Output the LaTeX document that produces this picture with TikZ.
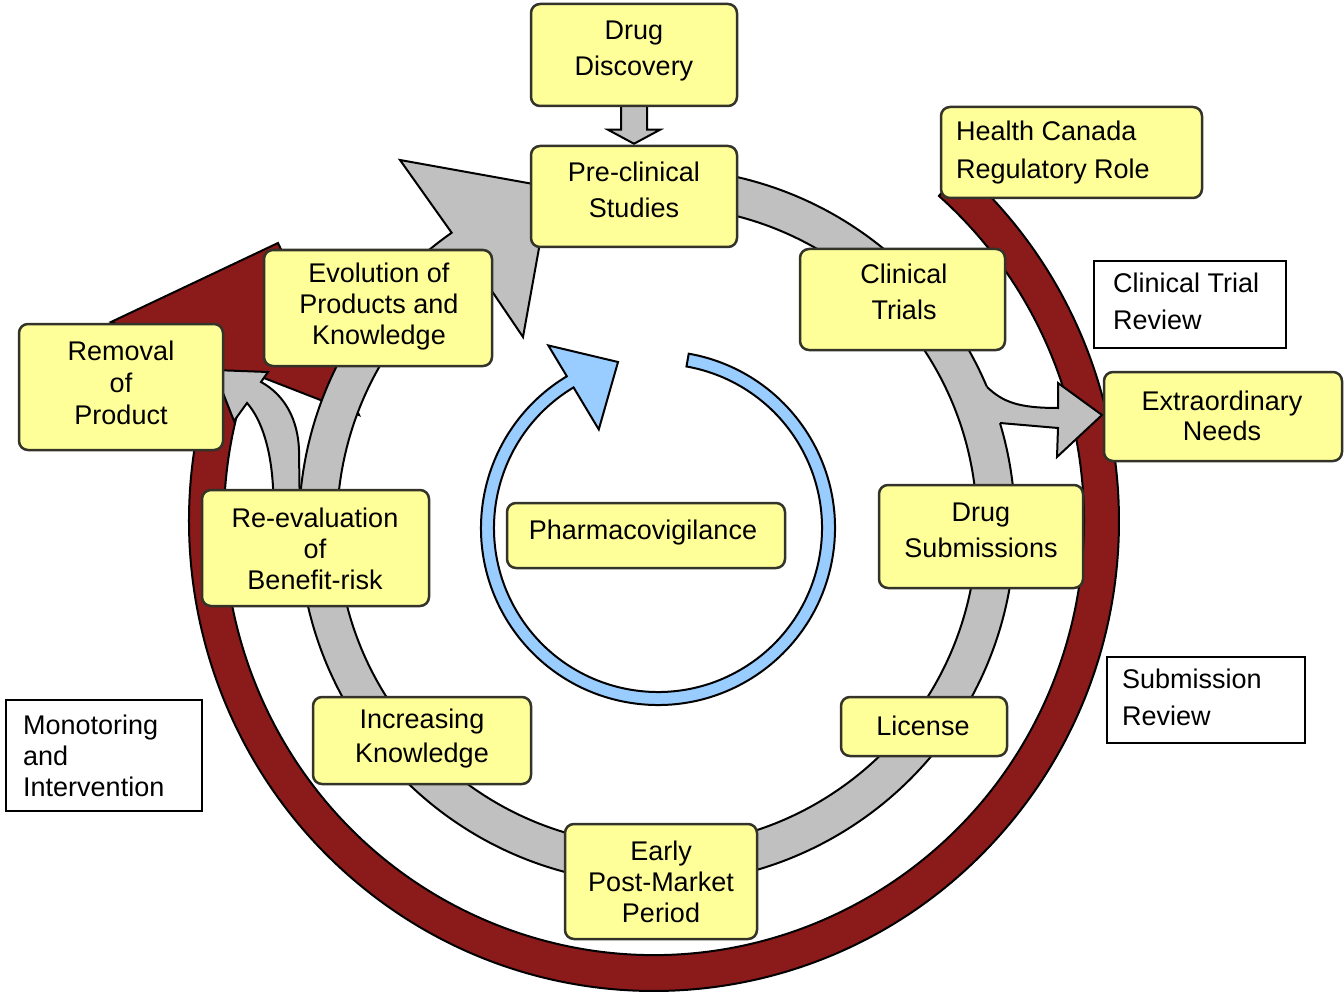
\documentclass[tikz,border=0pt]{standalone}
\usepackage{fontspec}
\setmainfont{Liberation Sans}
\usetikzlibrary{calc}
\pgfdeclarelayer{back}
\pgfsetlayers{back,main}
\definecolor{boxfill}{HTML}{FFFF99}
\definecolor{boxline}{HTML}{33332A}
\definecolor{cyclegray}{HTML}{C0C0C0}
\definecolor{hcred}{HTML}{8B1A1A}
\definecolor{pvblue}{HTML}{99CCFF}
\tikzset{
  stage/.style={draw=boxline, fill=boxfill, line width=2.5pt, rounded corners=9pt, inner sep=0pt},
  note/.style={draw=black, fill=white, line width=2.5pt, inner sep=0pt},
  lbl/.style={font=\fontsize{27}{32}\selectfont, align=center, inner sep=0pt},
  lbll/.style={font=\fontsize{27}{37}\selectfont, align=left, inner sep=0pt, anchor=west},
  band/.style={draw=black, line width=2pt, line join=miter},
}
\begin{document}
\begin{tikzpicture}[x=1pt, y=-1pt]
\path[use as bounding box] (0,0) rectangle (1344,995);

% ---------- stage boxes ----------
\node[stage, minimum width=206pt, minimum height=102pt] (disc) at (634,55) {};
\node[lbl, font=\fontsize{27}{36}\selectfont] (disc-t) at (634,51) {Drug\\Discovery};

\node[stage, minimum width=206pt, minimum height=101pt] (pre) at (634,196.5) {};
\node[lbl, font=\fontsize{27}{36}\selectfont] (pre-t) at (634,190) {Pre-clinical\\Studies};

\node[stage, minimum width=261pt, minimum height=91pt] (hc) at (1071.5,152.5) {};
\node[lbll, font=\fontsize{27}{38}\selectfont] (hc-t) at (956,153) {Health Canada\\Regulatory Role};

\node[stage, minimum width=205pt, minimum height=101pt] (ct) at (902.5,299.5) {};
\node[lbl, font=\fontsize{27}{36}\selectfont] (ct-t) at (904,292) {Clinical\\Trials};

\node[note, minimum width=192pt, minimum height=87pt] (ctr) at (1190,304.5) {};
\node[lbll] (ctr-t) at (1113,301) {Clinical Trial\\Review};

\node[stage, minimum width=238pt, minimum height=89pt] (ext) at (1223,416.5) {};
\node[lbl, font=\fontsize{27}{30}\selectfont] (ext-t) at (1222,416) {Extraordinary\\Needs};

\node[stage, minimum width=204pt, minimum height=103pt] (sub) at (981,536.5) {};
\node[lbl, font=\fontsize{27}{36}\selectfont] (sub-t) at (981,530) {Drug\\Submissions};

\node[note, minimum width=198pt, minimum height=86pt] (subr) at (1206,700) {};
\node[lbll] (subr-t) at (1122,697) {Submission\\Review};

\node[stage, minimum width=166pt, minimum height=59pt] (lic) at (924,726.5) {};
\node[lbl] (lic-t) at (923,726) {License};

\node[stage, minimum width=192pt, minimum height=115pt] (early) at (661,881.5) {};
\node[lbl, font=\fontsize{27}{31}\selectfont] (early-t) at (661,882) {Early\\Post-Market\\Period};

\node[stage, minimum width=218pt, minimum height=87pt] (inc) at (422,740.5) {};
\node[lbl, font=\fontsize{27}{34}\selectfont] (inc-t) at (422,739) {Increasing\\Knowledge};

\node[note, minimum width=196pt, minimum height=111pt] (mon) at (104,755.5) {};
\node[lbll, font=\fontsize{27}{31}\selectfont] (mon-t) at (23,756) {Monotoring\\and\\Intervention};

\node[stage, minimum width=227pt, minimum height=116pt] (reev) at (315.5,548) {};
\node[lbl, font=\fontsize{27}{31}\selectfont] (reev-t) at (315,549) {Re-evaluation\\of\\Benefit-risk};

\node[stage, minimum width=204pt, minimum height=126pt] (rem) at (121,387) {};
\node[lbl, font=\fontsize{27}{32}\selectfont] (rem-t) at (121,383) {Removal\\of\\Product};

\node[stage, minimum width=228pt, minimum height=116pt] (evo) at (378,308) {};
\node[lbl, font=\fontsize{27}{31}\selectfont] (evo-t) at (379,307) {Evolution of\\Products and\\Knowledge};

\node[stage, minimum width=278pt, minimum height=65pt] (pv) at (646,535.5) {};
\node[lbl] (pv-t) at (643,533) {Pharmacovigilance};

% ---------- bands and arrows behind the boxes ----------
\begin{pgfonlayer}{back}
\fill[white] (0,0) rectangle (1344,995);

% regulatory band (dark red) ending in a wide arrow head
\begin{scope}[shift={(654,521)}]
\draw[band, fill=hcred] (-48.5:465 and 470)
  arc[start angle=-48.5, end angle=200, x radius=465, y radius=470]
  -- (-543,-199) -- (-376,-278) -- (-295,-106) -- (200:430 and 434)
  arc[start angle=200, end angle=-48.5, x radius=430, y radius=434] -- cycle;
\end{scope}

% product life cycle (grey ring with head at the top left)
\begin{scope}[shift={(657,526)}]
\draw[band, fill=cyclegray] (-80:358)
  arc[start angle=-80, end angle=235, radius=358]
  -- (-257,-366) -- (-107,-339) -- (-134,-189) -- (235:320)
  arc[start angle=235, end angle=-80, radius=320] -- cycle;
\end{scope}

% branch towards removal of product
\draw[band, fill=cyclegray] (276,600) -- (273,487)
  .. controls (271,450) and (262,420) .. (247,403)
  -- (234,421) -- (214,370) -- (268,372) -- (261,382)
  .. controls (285,395) and (298,420) .. (299,450) -- (301,600) -- cycle;

% branch towards extraordinary needs
\fill[cyclegray] (970,385) -- (987,387) .. controls (1003,402) and (1018,408) .. (1058,408)
  -- (1058,383) -- (1102,415) -- (1057,457) -- (1058,428) -- (1000,423) -- (985,430) -- cycle;
\draw[band] (987,387) .. controls (1003,402) and (1018,408) .. (1058,408)
  -- (1058,383) -- (1102,415) -- (1057,457) -- (1058,428) -- (1000,423);

% discovery feeds pre-clinical studies
\draw[band, fill=cyclegray] ($(disc.south)+(-13,-3)$) -- ($(pre.north)+(-13,-15)$)
  -- ($(pre.north)+(-26,-15)$) -- ($(pre.north)+(0,-1)$) -- ($(pre.north)+(26,-15)$)
  -- ($(pre.north)+(13,-15)$) -- ($(disc.south)+(13,-3)$) -- cycle;

% pharmacovigilance loop
\begin{scope}[shift={(658,528)}]
\draw[band, fill=pvblue] (-80:177)
  arc[start angle=-80, end angle=239, radius=177]
  -- (239:213) -- (-40,-166) -- (239:115) -- (239:164)
  arc[start angle=239, end angle=-80, radius=164] -- cycle;
\end{scope}
\end{pgfonlayer}
\end{tikzpicture}
\end{document}
